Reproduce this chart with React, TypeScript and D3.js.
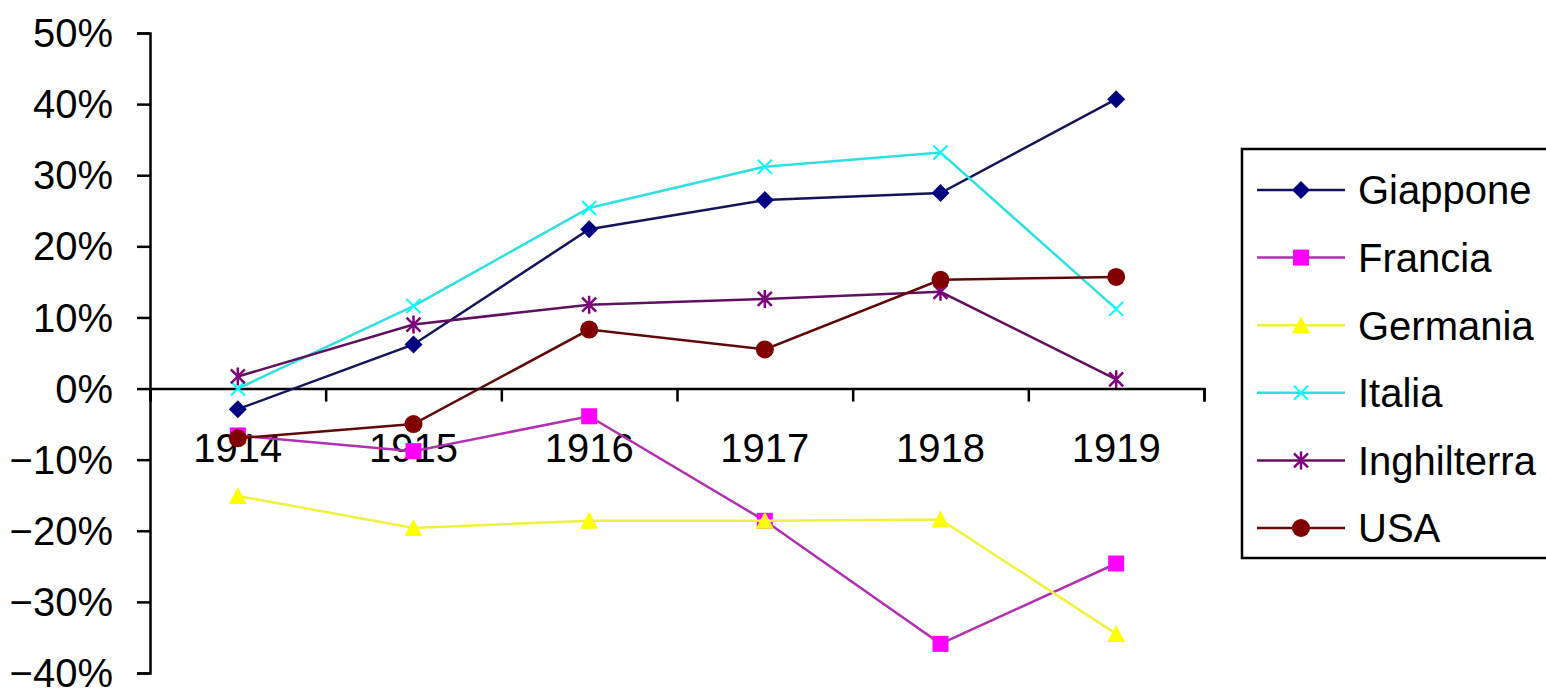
import React, { useEffect, useRef } from 'react';
import * as d3 from 'd3';

const years = ['1914', '1915', '1916', '1917', '1918', '1919'];
const giappone = [-0.029, 0.062, 0.224, 0.265, 0.275, 0.407];
const francia = [-0.066, -0.088, -0.039, -0.186, -0.359, -0.246];
const germania = [-0.151, -0.196, -0.186, -0.186, -0.184, -0.345];
const italia = [0.0, 0.116, 0.254, 0.312, 0.332, 0.112];
const inghilterra = [0.017, 0.09, 0.118, 0.126, 0.136, 0.013];
const usa = [-0.07, -0.05, 0.083, 0.055, 0.153, 0.157];
const yTicks = [-0.4, -0.3, -0.2, -0.1, 0, 0.1, 0.2, 0.3, 0.4, 0.5];

const series = [
  { name: 'Giappone', values: giappone, line: '#14145a', fill: '#000080', marker: 'diamond' },
  { name: 'Francia', values: francia, line: '#b030b0', fill: '#ff00ff', marker: 'square' },
  { name: 'Germania', values: germania, line: '#f0f040', fill: '#ffff00', marker: 'triangle' },
  { name: 'Italia', values: italia, line: '#30e0e0', fill: '#00ffff', marker: 'x' },
  { name: 'Inghilterra', values: inghilterra, line: '#601060', fill: '#800080', marker: 'star' },
  { name: 'USA', values: usa, line: '#600808', fill: '#800000', marker: 'circle' },
];

const FONT = '"Liberation Sans", Arial, sans-serif';

function drawMarker(g: any, type: string, fill: string) {
  if (type === 'diamond') {
    g.append('path').attr('d', 'M0,-9L9,0L0,9L-9,0Z').attr('fill', fill);
  } else if (type === 'square') {
    g.append('rect').attr('x', -8).attr('y', -8).attr('width', 16).attr('height', 16).attr('fill', fill);
  } else if (type === 'triangle') {
    g.append('path').attr('d', 'M0,-9L9,8L-9,8Z').attr('fill', fill);
  } else if (type === 'x') {
    g.append('path').attr('d', 'M-7,-7L7,7M-7,7L7,-7').attr('stroke', fill).attr('stroke-width', 2);
  } else if (type === 'star') {
    g.append('path')
      .attr('d', 'M-7,-7L7,7M-7,7L7,-7M0,-9V9')
      .attr('stroke', fill)
      .attr('stroke-width', 2.5);
  } else {
    g.append('circle').attr('r', 9).attr('fill', fill);
  }
}

export default function App() {
  const ref = useRef<SVGSVGElement>(null);

  useEffect(() => {
    const svg = d3.select(ref.current);
    svg.selectAll('*').remove();

    const x = d3.scaleBand().domain(years).range([150, 1204]);
    const y = d3.scaleLinear().domain([-0.4, 0.5]).range([673, 33]);

    // y axis
    const ya = svg
      .append('g')
      .attr('transform', 'translate(150,0)')
      .call(
        d3.axisLeft(y).tickValues(yTicks).tickFormat(d3.format('.0%')).tickSize(13).tickPadding(24)
      );
    ya.selectAll('path, line').attr('stroke', '#000').attr('stroke-width', 2.5);
    ya.selectAll('text')
      .attr('font-size', 40)
      .attr('font-family', FONT)
      .attr('fill', '#000')
      .attr('dy', '0.34em');

    // x axis: ticks sit on the category boundaries
    const edges = d3.scaleLinear().domain([0, years.length]).range([150, 1204]);
    const xt = svg
      .append('g')
      .attr('transform', `translate(0,${y(0)})`)
      .call(d3.axisBottom(edges).ticks(years.length).tickFormat(() => '').tickSize(13));
    xt.selectAll('path, line').attr('stroke', '#000').attr('stroke-width', 2.5);

    const xl = svg
      .append('g')
      .attr('transform', `translate(0,${y(0)})`)
      .call(d3.axisBottom(x).tickSize(0).tickPadding(45));
    xl.select('.domain').remove();
    xl.selectAll('text').attr('font-size', 40).attr('font-family', FONT).attr('fill', '#000');

    const cx = (d: string) => (x(d) as number) + x.bandwidth() / 2;
    const line = d3
      .line<number>()
      .x((_, i) => cx(years[i]))
      .y((v) => y(v));

    series.forEach((s) => {
      svg
        .append('path')
        .attr('d', line(s.values))
        .attr('fill', 'none')
        .attr('stroke', s.line)
        .attr('stroke-width', 2.5);
      s.values.forEach((v, i) => {
        const g = svg.append('g').attr('transform', `translate(${cx(years[i])},${y(v)})`);
        drawMarker(g, s.marker, s.fill);
      });
    });

    // legend
    const lg = svg.append('g');
    lg.append('rect')
      .attr('x', 1242)
      .attr('y', 149)
      .attr('width', 330)
      .attr('height', 409)
      .attr('fill', '#fff')
      .attr('stroke', '#000')
      .attr('stroke-width', 2.5);
    series.forEach((s, i) => {
      const row = lg.append('g').attr('transform', `translate(0,${190 + i * 67.6})`);
      row.append('line')
        .attr('x1', 1257)
        .attr('x2', 1345)
        .attr('stroke', s.line)
        .attr('stroke-width', 2.5);
      drawMarker(row.append('g').attr('transform', 'translate(1301,0)'), s.marker, s.fill);
      row.append('text')
        .attr('x', 1358)
        .attr('dy', '0.36em')
        .attr('font-size', 40)
        .attr('font-family', FONT)
        .text(s.name);
    });
  }, []);

  return (
    <svg
      ref={ref}
      width={1546}
      height={695}
      style={{ position: 'absolute', left: 0, top: 0, background: '#fff' }}
    />
  );
}
